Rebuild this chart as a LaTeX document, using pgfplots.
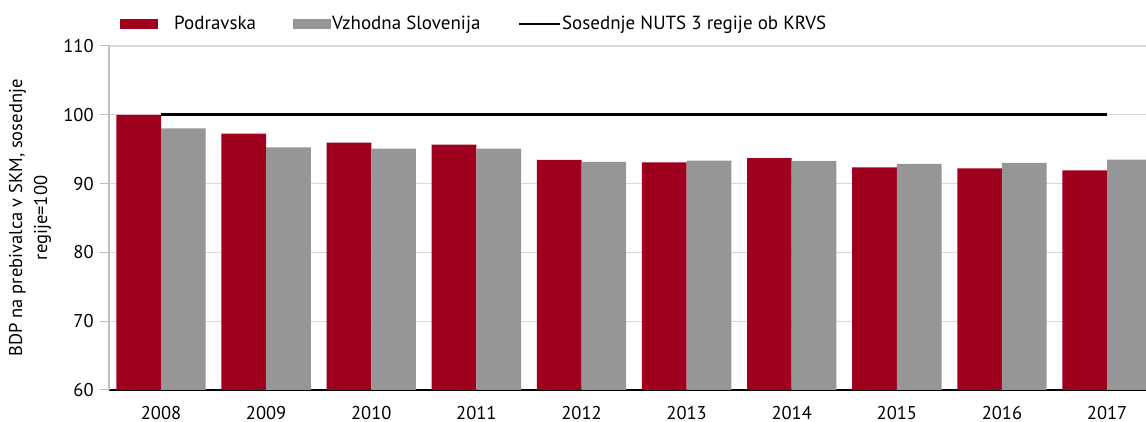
\documentclass[border=0pt]{standalone}
\usepackage{pgfplots}
\pgfplotsset{compat=1.18}
\usepackage{fontspec}
\setmainfont{PT Sans}
\definecolor{barred}{HTML}{9E001E}
\definecolor{bargray}{HTML}{969696}
\definecolor{gridgray}{HTML}{D9D9D9}
\definecolor{axgray}{HTML}{BFBFBF}
\newcommand\ff{\fontsize{18.5}{22}\selectfont}
\newcommand\lf{\fontsize{19}{22}\selectfont}
\begin{document}
\ff
\begin{tikzpicture}
\begin{axis}[
  scale only axis, width=1037pt, height=344pt,
  xmin=-0.495, xmax=9.37, ymin=60, ymax=110,
  ytick={60,70,80,90,100,110},
  xtick={0,1,2,3,4,5,6,7,8,9},
  xticklabels={2008,2009,2010,2011,2012,2013,2014,2015,2016,2017},
  /pgf/number format/assume math mode=true,
  tick label style={font=\ff},
  axis x line*=bottom, axis y line*=left,
  x axis line style={black, line width=1.3pt, -},
  y axis line style={axgray, line width=1.3pt, -},
  xtick style={draw=none},
  ytick style={axgray, line width=1pt},
  tick align=outside, major tick length=9pt,
  ymajorgrids, grid style={gridgray, line width=1.2pt},
  xticklabel style={inner sep=0pt, yshift=-7pt},
  ylabel={BDP na prebivalca v SKM, sosednje\\regije=100},
  ylabel style={font=\fontsize{18.5}{25}\selectfont, align=center, at={(axis description cs:-0.0762,0.5)}, anchor=center},
  legend columns=3, legend cell align=left,
  legend style={at={(axis description cs:0,1)}, anchor=west, xshift=11pt, yshift=22pt,
    draw=none, fill=none, inner sep=0pt, font=\lf,
    /tikz/every even column/.append style={column sep=37pt},
    nodes={inner sep=0pt}},
]
\addplot[ybar, bar width=0.425, bar shift=-0.2125, fill=barred, draw=none,
  legend image code/.code={\fill[barred] (0pt,-5pt) rectangle (38pt,5pt); \path (54pt,0pt);}]
  coordinates {(0,100) (1,97.25) (2,95.94) (3,95.65) (4,93.43) (5,93.09) (6,93.72) (7,92.37) (8,92.22) (9,91.93)};
\addlegendentry{Podravska}
\addplot[ybar, bar width=0.425, bar shift=0.2125, fill=bargray, draw=none,
  legend image code/.code={\fill[bargray] (0pt,-5pt) rectangle (38pt,5pt); \path (39pt,0pt);}]
  coordinates {(0,98.02) (1,95.27) (2,95.07) (3,95.07) (4,93.14) (5,93.33) (6,93.29) (7,92.85) (8,93.0) (9,93.48)};
\addlegendentry{Vzhodna Slovenija}
\addplot[black, line width=2.6pt, mark=none,
  legend image code/.code={\draw[black, line width=2.6pt] (0pt,0pt) -- (41pt,0pt); \path (42pt,0pt);}]
  coordinates {(0,100) (9,100)};
\addlegendentry{Sosednje NUTS 3 regije ob KRVS}
\end{axis}
\pgfresetboundingbox
\useasboundingbox (-109pt,-32pt) rectangle (1037pt,390pt);
\end{tikzpicture}
\end{document}
